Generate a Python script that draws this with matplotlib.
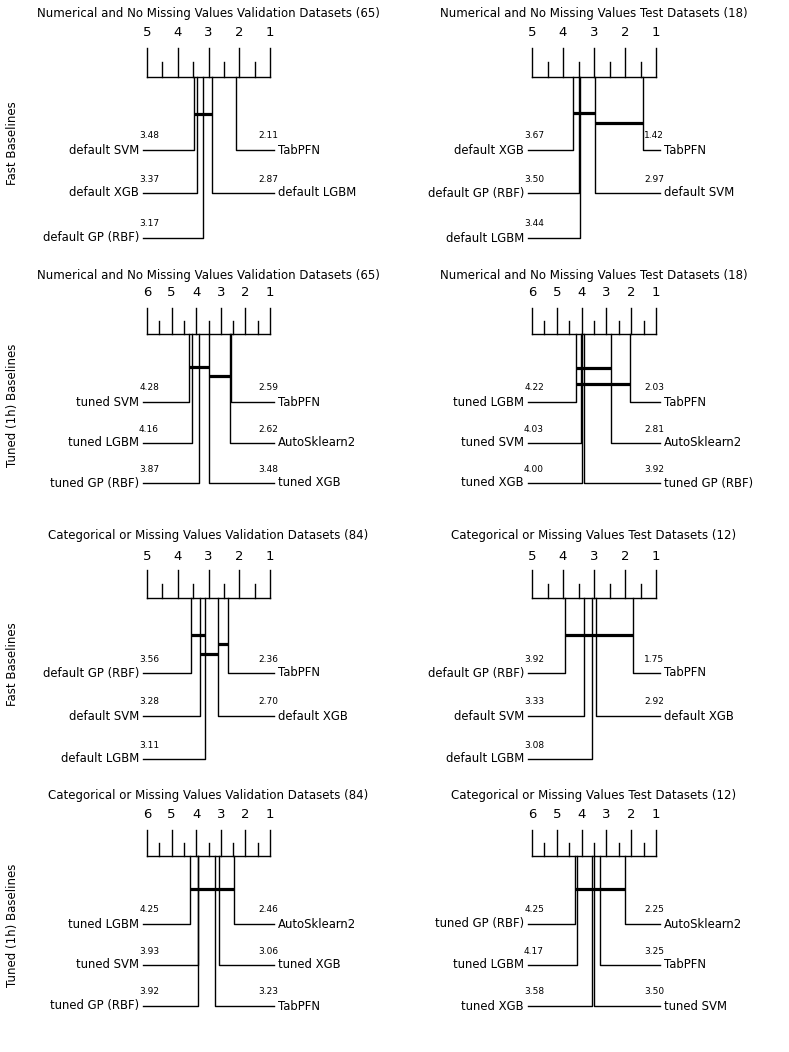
import math
import numpy as np
import matplotlib
matplotlib.use("Agg")
import matplotlib.pyplot as plt

# average ranks per method (lower is better), one block per diagram
num_val_fast_names = ["default SVM", "default XGB", "default GP (RBF)", "default LGBM", "TabPFN"]
num_val_fast_ranks = [3.48, 3.37, 3.17, 2.87, 2.11]
num_val_fast_cliques = [("default SVM", "default LGBM")]

num_test_fast_names = ["default XGB", "default GP (RBF)", "default LGBM", "default SVM", "TabPFN"]
num_test_fast_ranks = [3.67, 3.50, 3.44, 2.97, 1.42]
num_test_fast_cliques = [("default XGB", "default SVM"), ("default SVM", "TabPFN")]

num_val_tuned_names = ["tuned SVM", "tuned LGBM", "tuned GP (RBF)", "tuned XGB", "AutoSklearn2", "TabPFN"]
num_val_tuned_ranks = [4.28, 4.16, 3.87, 3.48, 2.62, 2.59]
num_val_tuned_cliques = [("tuned SVM", "tuned XGB"), ("tuned XGB", "TabPFN")]

num_test_tuned_names = ["tuned LGBM", "tuned SVM", "tuned XGB", "tuned GP (RBF)", "AutoSklearn2", "TabPFN"]
num_test_tuned_ranks = [4.22, 4.03, 4.00, 3.92, 2.81, 2.03]
num_test_tuned_cliques = [("tuned LGBM", "AutoSklearn2"), ("tuned LGBM", "TabPFN")]

cat_val_fast_names = ["default GP (RBF)", "default SVM", "default LGBM", "default XGB", "TabPFN"]
cat_val_fast_ranks = [3.56, 3.28, 3.11, 2.70, 2.36]
cat_val_fast_cliques = [("default GP (RBF)", "default LGBM"), ("default XGB", "TabPFN"),
                        ("default SVM", "default XGB")]

cat_test_fast_names = ["default GP (RBF)", "default SVM", "default LGBM", "default XGB", "TabPFN"]
cat_test_fast_ranks = [3.92, 3.33, 3.08, 2.92, 1.75]
cat_test_fast_cliques = [("default GP (RBF)", "TabPFN")]

cat_val_tuned_names = ["tuned LGBM", "tuned SVM", "tuned GP (RBF)", "TabPFN", "tuned XGB", "AutoSklearn2"]
cat_val_tuned_ranks = [4.25, 3.93, 3.92, 3.23, 3.06, 2.46]
cat_val_tuned_cliques = [("tuned LGBM", "AutoSklearn2")]

cat_test_tuned_names = ["tuned GP (RBF)", "tuned LGBM", "tuned XGB", "tuned SVM", "TabPFN", "AutoSklearn2"]
cat_test_tuned_ranks = [4.25, 4.17, 3.58, 3.50, 3.25, 2.25]
cat_test_tuned_cliques = [("tuned GP (RBF)", "AutoSklearn2")]

num_val_title = "Numerical and No Missing Values Validation Datasets (65)"
num_test_title = "Numerical and No Missing Values Test Datasets (18)"
cat_val_title = "Categorical or Missing Values Validation Datasets (84)"
cat_test_title = "Categorical or Missing Values Test Datasets (12)"
row_labels = ["Fast Baselines", "Tuned (1h) Baselines", "Fast Baselines", "Tuned (1h) Baselines"]

W, H = 789, 1052
fig = plt.figure(figsize=(W / 100, H / 100), dpi=100)
fig.patch.set_facecolor("white")

LW = 1.0


def cd_panel(x0, y0, w, h, lay, title, names, ranks, cliques, highv):
    ax = fig.add_axes([x0 / W, 1 - (y0 + h) / H, w / W, h / H])
    ax.set_axis_off()
    sl, sr = lay["scale"]
    upr = (sr - sl) / (highv - 1)  # pixels per rank unit
    ax.set_xlim(highv + sl / upr, highv - (w - sl) / upr)
    ax.set_ylim(h, 0)

    ax.text((highv + 1) / 2, lay["title"], title, ha="center", va="center", fontsize=8.5)
    ax.plot([highv, 1], [lay["axis"]] * 2, color="k", lw=LW)
    for t in np.arange(1, highv + 0.01, 0.5):
        top = lay["big"] if t == int(t) else lay["small"]
        ax.plot([t, t], [top, lay["axis"]], color="k", lw=LW)
    for t in range(1, highv + 1):
        ax.text(t, lay["ticklab"], str(t), ha="center", va="center", fontsize=9.5)

    order = sorted(zip(ranks, names), reverse=True)
    k = len(order)
    nl = math.ceil(k / 2)
    pos = dict((n, r) for r, n in order)
    for i, (r, n) in enumerate(order):
        if i < nl:
            row = lay["rows"][i]
            end = highv + 4 / upr
            ax.plot([r, r, end], [lay["axis"], row, row], color="k", lw=LW)
            ax.text(highv + 8 / upr, row, n, ha="right", va="center", fontsize=8.4)
            ax.text(highv - 12 / upr, row - 14, "%.2f" % r, ha="right", va="center", fontsize=6.5)
        else:
            row = lay["rows"][k - 1 - i]
            end = 1 - 4 / upr
            ax.plot([r, r, end], [lay["axis"], row, row], color="k", lw=LW)
            ax.text(1 - 8 / upr, row, n, ha="left", va="center", fontsize=8.4)
            ax.text(1 + 12 / upr, row - 14, "%.2f" % r, ha="left", va="center", fontsize=6.5)

    for j, (a, b) in enumerate(cliques):
        cy = lay["cliques"][j]
        ax.plot([pos[a], pos[b]], [cy, cy], color="k", lw=2.3, solid_capstyle="butt")


def lay_for(base, cl):
    d = dict(base)
    d["cliques"] = cl
    return d


row1 = dict(title=13, ticklab=33, big=48, small=62, axis=77, rows=[150, 193, 238])
row2 = dict(title=15, ticklab=33, big=48, small=61, axis=74, rows=[142, 183, 223])
row3 = dict(title=25, ticklab=46, big=60, small=74, axis=88, rows=[163, 206, 249])
row4 = dict(title=16, ticklab=35, big=50, small=63, axis=76, rows=[144, 185, 226])
left_scale = (147, 270)
right_scale = (137, 261)

tops = [0, 260, 510, 780]
heights = [260, 250, 270, 272]

panels = [
    (0, row1, [114], num_val_title, num_val_fast_names, num_val_fast_ranks, num_val_fast_cliques, 5),
    (1, row1, [113, 123], num_test_title, num_test_fast_names, num_test_fast_ranks, num_test_fast_cliques, 5),
    (0, row2, [107, 116], num_val_title, num_val_tuned_names, num_val_tuned_ranks, num_val_tuned_cliques, 6),
    (1, row2, [108, 124], num_test_title, num_test_tuned_names, num_test_tuned_ranks, num_test_tuned_cliques, 6),
    (0, row3, [125, 134, 144], cat_val_title, cat_val_fast_names, cat_val_fast_ranks, cat_val_fast_cliques, 5),
    (1, row3, [125], cat_test_title, cat_test_fast_names, cat_test_fast_ranks, cat_test_fast_cliques, 5),
    (0, row4, [109], cat_val_title, cat_val_tuned_names, cat_val_tuned_ranks, cat_val_tuned_cliques, 6),
    (1, row4, [109], cat_test_title, cat_test_tuned_names, cat_test_tuned_ranks, cat_test_tuned_cliques, 6),
]

for idx, (col, base, cl, title, names, ranks, cliques, hv) in enumerate(panels):
    r = idx // 2
    lay = lay_for(base, cl)
    if col == 0:
        lay["scale"] = left_scale
        cd_panel(0, tops[r], 395, heights[r], lay, title, names, ranks, cliques, hv)
    else:
        lay["scale"] = right_scale
        cd_panel(395, tops[r], 394, heights[r], lay, title, names, ranks, cliques, hv)

for lab, yc in zip(row_labels, [143, 405, 664, 925]):
    fig.text(13 / W, 1 - yc / H, lab, rotation=90, ha="center", va="center", fontsize=8.5)

fig.savefig("out.png", dpi=100, facecolor="white")
